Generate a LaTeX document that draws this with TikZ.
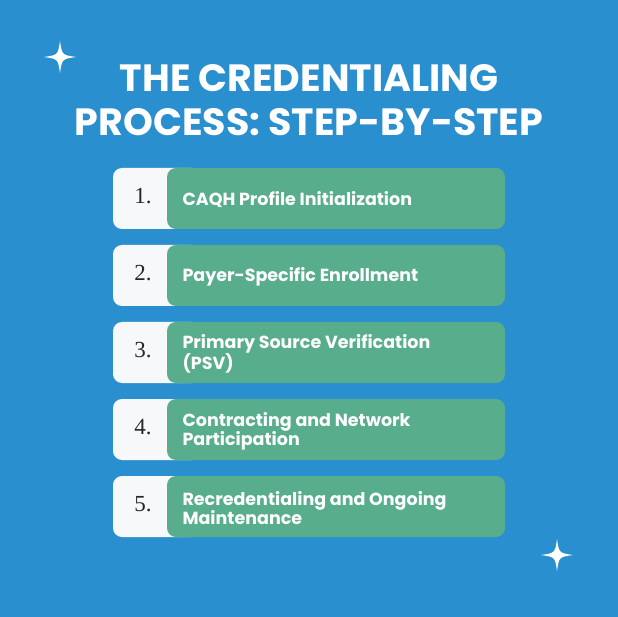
\documentclass[tikz,border=0pt]{standalone}
\usepackage{fontspec}
\setmainfont{Poppins}
\newfontfamily\numfont{Liberation Serif}
\definecolor{bg}{HTML}{2A8FCF}
\definecolor{gr}{HTML}{58AD8D}
\definecolor{wh}{HTML}{F7F8FA}
\tikzset{
 numbox/.style={fill=wh,rounded corners=9pt},
 grbox/.style={fill=gr,rounded corners=9pt},
 numtxt/.style={font=\numfont\fontsize{23}{23}\selectfont,text=black!85},
 steptxt/.style={font=\bfseries\fontsize{17.5}{19}\selectfont,text=white,anchor=west,align=left},
 star/.style={fill=white}
}
\begin{document}
\begin{tikzpicture}[x=1pt,y=-1pt]
\fill[bg] (0,0) rectangle (618,617);
\useasboundingbox (0,0) rectangle (618,617);
\node[font=\bfseries\fontsize{38}{44}\selectfont,text=white,align=center] (title) at (309,100) {THE CREDENTIALING\\PROCESS: STEP-BY-STEP};
\foreach \i/\t [count=\k from 0] in {1./CAQH Profile Initialization,2./Payer-Specific Enrollment,3./{Primary Source Verification\\(PSV)},4./{Contracting and Network\\Participation},5./{Recredentialing and Ongoing\\Maintenance}}{
 \pgfmathsetmacro{\yt}{168+77*\k}
 \fill[numbox] (113,\yt) rectangle (200,\yt+61);
 \fill[grbox] (167,\yt) rectangle (505,\yt+61);
 \node[numtxt] (n\k) at (143,\yt+28) {\i};
 \node[steptxt] (s\k) at (179,\yt+32) {\t};
}
\foreach \cx/\cy/\r in {60/57/16,557/555/16}{
 \fill[star] (\cx-\r,\cy) .. controls (\cx-2,\cy-2) .. (\cx,\cy-\r) .. controls (\cx+2,\cy-2) .. (\cx+\r,\cy) .. controls (\cx+2,\cy+2) .. (\cx,\cy+\r) .. controls (\cx-2,\cy+2) .. cycle;
}
\end{tikzpicture}
\end{document}
